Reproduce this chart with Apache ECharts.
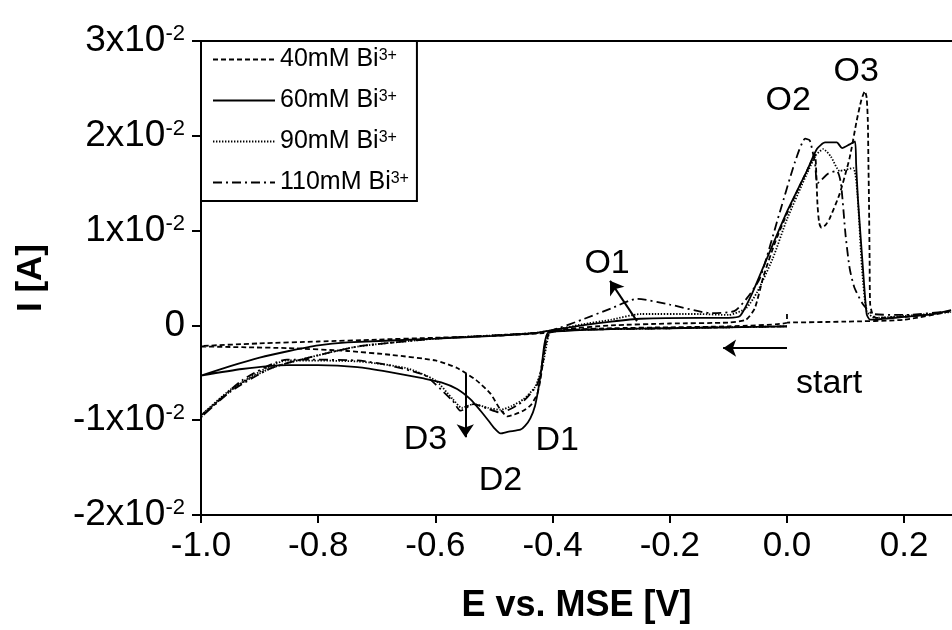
<!DOCTYPE html>
<html>
<head>
<meta charset="utf-8">
<script src="https://cdn.jsdelivr.net/npm/echarts@6/dist/echarts.min.js"></script>
<style>
html,body{margin:0;padding:0;background:#fff;}
#chart{width:952px;height:630px;}
</style>
</head>
<body>
<div id="chart"></div>
<script>
// ---------- data (E [V], I [A]) ----------
const seriesNames = ['40mM Bi3+', '60mM Bi3+', '90mM Bi3+', '110mM Bi3+'];

const bi40 = [
  [0.0,0.0012],[0.0,0.0003],[-0.1,-0.0001],[-0.2,-0.0002],[-0.3,-0.0003],[-0.38,-0.0005],[-0.405,-0.0008],
  [-0.412,-0.002],[-0.416,-0.0037],[-0.421,-0.0058],[-0.426,-0.0072],[-0.437,-0.0084],[-0.45,-0.009],
  [-0.465,-0.0094],[-0.477,-0.0096],[-0.49,-0.0088],[-0.506,-0.0072],[-0.53,-0.0058],[-0.563,-0.0045],
  [-0.6,-0.0037],[-0.677,-0.0031],[-0.75,-0.0027],[-0.85,-0.0024],[-0.93,-0.0023],[-1.0,-0.0022],
  [-0.9,-0.0019],[-0.8,-0.0017],[-0.7,-0.0015],[-0.6,-0.0013],[-0.5,-0.0011],[-0.416,-0.0008],
  [-0.38,-0.0004],[-0.3,0.0],[-0.2,0.0002],[-0.1,0.0003],[-0.07,0.0006],[-0.055,0.0018],[-0.04,0.0052],
  [-0.02,0.0088],[0.0,0.0118],[0.02,0.0145],[0.034,0.0163],[0.044,0.0176],[0.048,0.0180],[0.050,0.0160],
  [0.052,0.0128],[0.055,0.0108],[0.059,0.0103],[0.066,0.0106],[0.073,0.0113],[0.09,0.0139],[0.107,0.0177],
  [0.119,0.0216],[0.127,0.0238],[0.133,0.0247],[0.136,0.0240],[0.138,0.0215],[0.139,0.0170],[0.140,0.0128],
  [0.141,0.0070],[0.142,0.0022],[0.147,0.0010],[0.153,0.0008],[0.2,0.0009],[0.25,0.0012],[0.28,0.0015],
  [0.2,0.0006],[0.1,0.0004],[0.0,0.0003]
];

const bi60 = [
  [0.0,-0.0001],[-0.1,-0.0002],[-0.2,-0.0003],[-0.3,-0.0004],[-0.38,-0.0006],[-0.408,-0.0008],
  [-0.414,-0.002],[-0.419,-0.0045],[-0.424,-0.0066],[-0.43,-0.0085],[-0.438,-0.0098],[-0.447,-0.0106],
  [-0.455,-0.011],[-0.475,-0.0112],[-0.489,-0.0114],[-0.50,-0.0108],[-0.51,-0.0100],[-0.523,-0.009],
  [-0.54,-0.0078],[-0.563,-0.0067],[-0.59,-0.006],[-0.62,-0.0056],[-0.68,-0.0049],[-0.733,-0.0044],
  [-0.8,-0.0042],[-0.853,-0.0042],[-0.93,-0.0046],[-1.0,-0.0053],
  [-0.95,-0.0043],[-0.9,-0.0034],[-0.85,-0.0027],[-0.8,-0.0021],[-0.75,-0.0018],[-0.6,-0.0014],
  [-0.5,-0.0011],[-0.43,-0.0008],[-0.4,-0.0005],[-0.35,0.0],[-0.3,0.0004],[-0.25,0.0007],[-0.15,0.0008],
  [-0.1,0.0008],[-0.08,0.001],[-0.06,0.0033],[-0.034,0.0071],[0.0,0.012],[0.034,0.0163],[0.051,0.0186],
  [0.065,0.0193],[0.085,0.0193],[0.094,0.0187],[0.107,0.0191],[0.116,0.0194],[0.118,0.0170],
  [0.121,0.0134],[0.13,0.0057],[0.136,0.0012],[0.142,0.0006],[0.2,0.0009],[0.25,0.0012],[0.28,0.0016]
];

const bi90 = [
  [0.0,-0.0001],[-0.2,-0.0003],[-0.38,-0.0005],[-0.405,-0.0008],[-0.41,-0.002],[-0.418,-0.0045],
  [-0.43,-0.0065],[-0.45,-0.0078],[-0.47,-0.0085],[-0.489,-0.0089],[-0.51,-0.0087],[-0.535,-0.0083],
  [-0.555,-0.0087],[-0.57,-0.0078],[-0.6,-0.0058],[-0.65,-0.0045],[-0.733,-0.0038],[-0.853,-0.0037],
  [-0.93,-0.006],[-1.0,-0.0095],
  [-0.95,-0.0068],[-0.88,-0.0045],[-0.79,-0.003],[-0.73,-0.0022],[-0.6,-0.0014],[-0.43,-0.0008],
  [-0.4,-0.0005],[-0.35,0.0001],[-0.3,0.0006],[-0.25,0.0012],[-0.15,0.0012],[-0.1,0.0011],[-0.07,0.0018],
  [-0.051,0.0035],[-0.024,0.0071],[0.0,0.0112],[0.034,0.016],[0.05,0.018],[0.062,0.0186],[0.075,0.0178],
  [0.09,0.0163],[0.113,0.0166],[0.12,0.0140],[0.128,0.006],[0.136,0.0015],[0.15,0.0008],[0.2,0.001],
  [0.28,0.0014]
];

const bi110 = [
  [0.0,-0.0001],[-0.2,-0.0003],[-0.38,-0.0005],[-0.408,-0.0008],[-0.416,-0.0034],[-0.426,-0.0062],
  [-0.45,-0.008],[-0.489,-0.0092],[-0.51,-0.0088],[-0.535,-0.0083],[-0.557,-0.009],[-0.57,-0.008],
  [-0.6,-0.0062],[-0.62,-0.0052],[-0.68,-0.0042],[-0.733,-0.0037],[-0.853,-0.0036],[-0.93,-0.0058],
  [-1.0,-0.0097],
  [-0.95,-0.007],[-0.88,-0.0045],[-0.79,-0.003],[-0.73,-0.0022],[-0.6,-0.0014],[-0.43,-0.0008],
  [-0.4,-0.0005],[-0.35,0.0006],[-0.3,0.0018],[-0.256,0.0028],[-0.2,0.0022],[-0.13,0.0013],[-0.09,0.0015],
  [-0.068,0.0029],[-0.046,0.005],[-0.012,0.012],[0.014,0.0173],[0.031,0.0197],[0.039,0.0195],
  [0.048,0.017],[0.052,0.015],[0.07,0.016],[0.085,0.0163],[0.092,0.015],[0.1,0.0095],[0.107,0.006],
  [0.115,0.004],[0.13,0.0022],[0.147,0.0012],[0.2,0.0011],[0.28,0.0015]
];

// axis ticks
const xTicks = [-1.0, -0.8, -0.6, -0.4, -0.2, 0.0, 0.2];
const yTicks = [-0.02, -0.01, 0, 0.01, 0.02, 0.03];

// annotation labels [E, I, text]
const annotLabels = [
  [-0.307, 0.0065, 'O1'], [0.002, 0.0237, 'O2'], [0.118, 0.0268, 'O3'],
  [0.072, -0.0061, 'start'], [-0.392, -0.0122, 'D1'], [-0.489, -0.0164, 'D2'], [-0.617, -0.012, 'D3']
];
// annotation arrows [[E0, I0], [E1, I1]]
const annotArrows = [
  [[-0.256, 0.00045], [-0.302, 0.0047]],
  [[0.0, -0.0024], [-0.109, -0.0024]],
  [[-0.549, -0.0051], [-0.549, -0.0118]]
];

// ---------- chart ----------
const FONT = '"Liberation Sans", Arial, Helvetica, sans-serif';
const chart = echarts.init(document.getElementById('chart'), null, {renderer: 'canvas'});

function styleFor(i) {
  if (i === 0) return {type: [5, 3], width: 1.8, color: '#000'};
  if (i === 1) return {type: 'solid', width: 1.8, color: '#000'};
  if (i === 2) return {type: [1.4, 1.6], width: 1.8, color: '#000'};
  return {type: [9, 4, 2, 4], width: 1.8, color: '#000'};
}
const allData = [bi40, bi60, bi90, bi110];

const series = allData.map((d, i) => ({
  name: seriesNames[i],
  type: 'line',
  data: d,
  symbol: 'none',
  showSymbol: false,
  smooth: 0.2,
  lineStyle: styleFor(i),
  itemStyle: {color: '#000'},
  animation: false,
  silent: true,
  z: 3
}));

series.push({
  name: 'annot',
  type: 'scatter',
  data: annotLabels,
  symbolSize: 0,
  silent: true,
  animation: false,
  itemStyle: {color: '#000', opacity: 1},
  label: {
    show: true, position: 'inside',
    formatter: p => p.value[2],
    color: '#000', opacity: 1, fontSize: 34, fontFamily: FONT
  },
  markLine: {
    silent: true,
    animation: false,
    symbol: ['none', 'arrow'],
    symbolSize: 13,
    label: {show: false},
    itemStyle: {color: '#000', opacity: 1},
    lineStyle: {color: '#000', width: 2, type: 'solid', opacity: 1},
    data: annotArrows.map(a => [{coord: a[0]}, {coord: a[1]}])
  },
  z: 5
});

const option = {
  backgroundColor: '#fff',
  animation: false,
  grid: {left: 201, top: 41, right: 0, bottom: 115, containLabel: false},
  legend: {
    data: seriesNames,
    orient: 'vertical',
    left: 201, top: 41,
    itemWidth: 62, itemHeight: 22, itemGap: 16,
    padding: [6, 8, 6, 11],
    borderColor: '#000', borderWidth: 2, borderRadius: 0,
    backgroundColor: '#fff',
    selectedMode: false,
    itemStyle: {opacity: 0},
    formatter: n => '{t|' + n.replace('3+', '') + '}{s|3+}',
    textStyle: {
      color: '#000', fontFamily: FONT, fontSize: 25,
      rich: {
        t: {fontSize: 25, lineHeight: 24, fontFamily: FONT, color: '#000'},
        s: {fontSize: 16, lineHeight: 8, verticalAlign: 'top', fontFamily: FONT, color: '#000'}
      }
    }
  },
  xAxis: [{
    type: 'value', min: -1.0, max: 0.2816,
    position: 'bottom',
    name: 'E vs. MSE [V]', nameLocation: 'middle', nameGap: 73,
    nameTextStyle: {fontSize: 36, fontWeight: 'bold', fontFamily: FONT, color: '#000'},
    axisLine: {show: true, onZero: false, lineStyle: {color: '#000', width: 2}},
    axisTick: {show: true, inside: false, length: 8, lineStyle: {color: '#000', width: 2}, customValues: xTicks},
    axisLabel: {show: true, margin: 14, fontSize: 35, fontFamily: FONT, color: '#000',
      customValues: xTicks, formatter: v => v.toFixed(1)},
    splitLine: {show: false}
  }, {
    type: 'value', min: -1.0, max: 0.2816, position: 'top',
    axisLine: {show: true, onZero: false, lineStyle: {color: '#000', width: 2}},
    axisTick: {show: false}, axisLabel: {show: false}, splitLine: {show: false}
  }],
  yAxis: {
    type: 'value', min: -0.02, max: 0.03, interval: 0.01,
    name: 'I [A]', nameLocation: 'middle', nameGap: 152, nameRotate: 90,
    nameTextStyle: {fontSize: 35, fontWeight: 'bold', fontFamily: FONT, color: '#000'},
    axisLine: {show: true, onZero: false, lineStyle: {color: '#000', width: 2}},
    axisTick: {show: true, inside: false, length: 9, lineStyle: {color: '#000', width: 2}},
    axisLabel: {
      show: true, margin: 16, fontFamily: FONT, color: '#000',
      customValues: yTicks,
      formatter: v => {
        const n = Math.round(v * 100);
        if (n === 0) return '{m|0}';
        return '{m|' + n + 'x10}{s|-2}';
      },
      rich: {
        m: {fontSize: 37, lineHeight: 36, fontFamily: FONT, color: '#000'},
        s: {fontSize: 22, lineHeight: 8, verticalAlign: 'top', fontFamily: FONT, color: '#000'}
      }
    },
    splitLine: {show: false}
  },
  series: series
};
chart.setOption(option);
</script>
</body>
</html>
